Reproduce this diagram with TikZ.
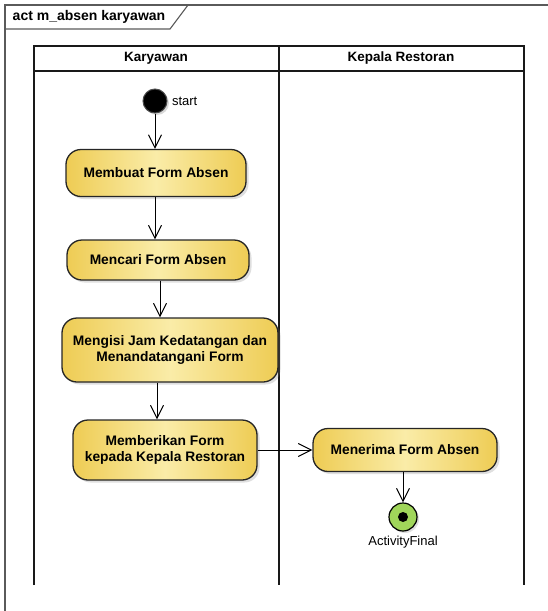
\documentclass[tikz,border=0pt]{standalone}
\usepackage{fontspec}
\setmainfont{Liberation Sans}
\usetikzlibrary{arrows.meta, shadows}

\definecolor{actedge}{RGB}{238,204,84}
\definecolor{actmid}{RGB}{250,236,168}
\definecolor{finalgreen}{RGB}{160,214,90}
\definecolor{framegray}{RGB}{90,90,90}

\tikzset{
  action/.style={draw=black!85, line width=1.3pt, rounded corners=15pt,
    left color=actedge, right color=actedge, middle color=actmid,
    align=center, font=\fontsize{13.8}{16.5}\selectfont\bfseries,
    drop shadow={shadow xshift=2.5pt, shadow yshift=-2.5pt, opacity=0.25}},
  flow/.style={-{Straight Barb[length=13pt,width=13pt]}, line width=1pt},
  lane/.style={line width=1.6pt, black!90},
  lanetitle/.style={font=\fontsize{13.5}{15}\selectfont\bfseries}
}

\begin{document}
\begin{tikzpicture}[x=1pt, y=-1pt]
  \useasboundingbox (0,0) rectangle (548,611);
  \clip (0,0) rectangle (548,611);
  % frame and its tab
  \draw[framegray, line width=1.3pt] (5,640) -- (5,5) -- (560,5);
  \draw[framegray, line width=1.1pt] (5,29) -- (170,29) -- (188,5);
  \node (frametitle) at (89,17) [font=\fontsize{14}{16}\selectfont\bfseries] {act m\_absen karyawan};
  % swimlanes
  \draw[lane] (34,585) -- (34,46) -- (524,46) -- (524,585);
  \draw[lane] (279,46) -- (279,585);
  \draw[lane] (34,71) -- (524,71);
  \node (karyawan) at (156,58.5) [lanetitle] {Karyawan};
  \node (kepala) at (401,58.5) [lanetitle] {Kepala Restoran};
  % actions
  \node (start) at (155,101) [circle, fill=black, draw=black!70, line width=1pt, minimum size=24pt, inner sep=0pt,
    drop shadow={shadow xshift=2pt, shadow yshift=-2pt, opacity=0.3}] {};
  \node (startlabel) at (start.east) [anchor=west, xshift=1pt, font=\fontsize{13}{14}\selectfont] {start};
  \node (membuat) at (156,173) [action, minimum width=180pt, minimum height=47pt] {Membuat Form Absen};
  \node (mencari) at (158,260) [action, minimum width=182pt, minimum height=40pt] {Mencari Form Absen};
  \node (mengisi) at (170,350) [action, minimum width=216pt, minimum height=64pt] {Mengisi Jam Kedatangan dan\\Menandatangani Form};
  \node (memberikan) at (165,450) [action, minimum width=184pt, minimum height=60pt] {Memberikan Form\\kepada Kepala Restoran};
  \node (menerima) at (405,450) [action, minimum width=184pt, minimum height=43pt] {Menerima Form Absen};
  \node (final) at (403,517) [circle, fill=finalgreen, draw=black, line width=1.2pt, minimum size=28pt, inner sep=0pt,
    drop shadow={shadow xshift=2pt, shadow yshift=-2pt, opacity=0.25}] {};
  \node (finaldot) at (final) [circle, fill=black, minimum size=10pt, inner sep=0pt] {};
  \node (finallabel) at (final.south) [anchor=north, yshift=-1pt, font=\fontsize{13}{14}\selectfont] {ActivityFinal};
  % Draw the flows between the actions
  \draw[flow] (start.south) -- (start.south |- membuat.north);
  \draw[flow] (membuat.south -| start) -- (start |- mencari.north);
  \draw[flow] (mencari.south -| 160,0) -- (160,0 |- mengisi.north);
  \draw[flow] (mengisi.south -| 157,0) -- (157,0 |- memberikan.north);
  \draw[flow] (memberikan.east) -- (menerima.west);
  \draw[flow] (menerima.south -| final) -- (final.north);
\end{tikzpicture}
\end{document}
